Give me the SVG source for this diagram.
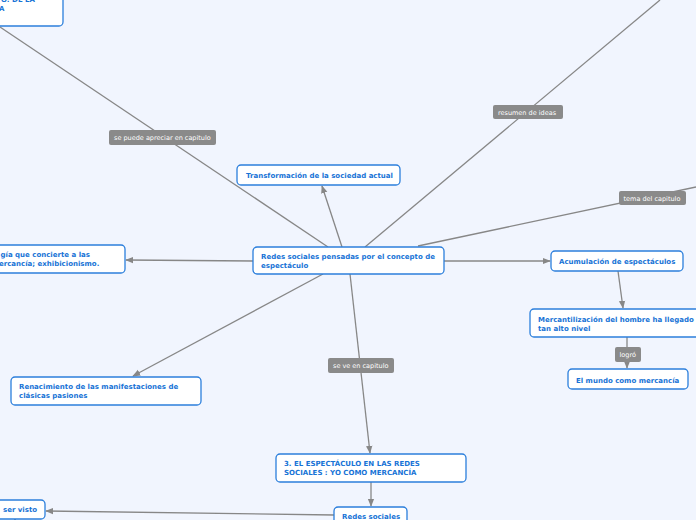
<svg xmlns="http://www.w3.org/2000/svg" width="696" height="520" viewBox="0 0 696 520">
<defs>
<marker id="ah" viewBox="0 0 10 10" refX="9" refY="5" markerWidth="8" markerHeight="8" markerUnits="userSpaceOnUse" orient="auto">
<path d="M0,1 L10,5 L0,9 Z" fill="#878787"/>
</marker>
<style>
.n rect{fill:#fff;stroke:#2c7fdc;stroke-width:1.3}
.n text{font-family:"DejaVu Sans",Verdana,sans-serif;font-weight:bold;font-size:7px;fill:#1773d6}
.c line{stroke:#878787;stroke-width:1.3;fill:none}
.l rect{fill:#8a8a8a}
.l text{font-family:"DejaVu Sans",Verdana,sans-serif;font-size:6.5px;fill:#fff}
</style>
</defs>
<rect width="696" height="520" fill="#f1f5fe"/>
<g id="connectors" class="c">
<line x1="328" y1="247" x2="0" y2="27"/>
<line x1="342" y1="247" x2="322" y2="186" marker-end="url(#ah)"/>
<line x1="365" y1="247" x2="660" y2="0"/>
<line x1="418" y1="246" x2="696" y2="187"/>
<line x1="253" y1="261" x2="126" y2="260" marker-end="url(#ah)"/>
<line x1="444" y1="261" x2="550" y2="261" marker-end="url(#ah)"/>
<line x1="323" y1="274" x2="133" y2="376" marker-end="url(#ah)"/>
<line x1="350" y1="274" x2="370" y2="453" marker-end="url(#ah)"/>
<line x1="618" y1="271" x2="623" y2="308" marker-end="url(#ah)"/>
<line x1="627" y1="337" x2="627" y2="368" marker-end="url(#ah)"/>
<line x1="371" y1="482" x2="371" y2="506" marker-end="url(#ah)"/>
<line x1="334" y1="515" x2="46" y2="511" marker-end="url(#ah)"/>
<line x1="15" y1="519" x2="15" y2="521" style="stroke:#3a4a6a"/>
</g>
<g id="labels" class="l">
<g><rect x="109" y="130" width="107" height="15" rx="2"/><text x="114" y="140">se puede apreciar en capitulo</text></g>
<g><rect x="493" y="105" width="70" height="14" rx="2"/><text x="498" y="114.5">resumen de ideas</text></g>
<g><rect x="619" y="191" width="67" height="14" rx="2"/><text x="623.5" y="200.5">tema del capitulo</text></g>
<g><rect x="328" y="358" width="66" height="15" rx="2"/><text x="333" y="368">se ve en capitulo</text></g>
<g><rect x="615" y="347" width="26" height="15" rx="2"/><text x="619.5" y="357">logró</text></g>
</g>
<g id="n-top" class="n"><rect x="-100" y="-20" width="163" height="46" rx="4"/><text x="35" y="2" text-anchor="end">O: DE LA</text><text x="-1" y="11">A</text></g>
<g id="n-transformacion" class="n"><rect x="237" y="165" width="163" height="20" rx="4"/><text x="246" y="178">Transformación de la sociedad actual</text></g>
<g id="n-center" class="n"><rect x="253" y="247" width="191" height="27" rx="4"/><text x="261" y="258.5">Redes sociales pensadas por el concepto de</text><text x="261" y="268">espectáculo</text></g>
<g id="n-ideologia" class="n"><rect x="-80" y="245" width="205" height="28" rx="4"/><text x="0.5" y="257">gía que concierte a las</text><text x="-1" y="266">ercancía; exhibicionismo.</text></g>
<g id="n-acumulacion" class="n"><rect x="551" y="251" width="132" height="20" rx="4"/><text x="559" y="264">Acumulación de espectáculos</text></g>
<g id="n-mercantilizacion" class="n"><rect x="530" y="309" width="180" height="28" rx="4"/><text x="538" y="322">Mercantilización del hombre ha llegado a</text><text x="538" y="331">tan alto nivel</text></g>
<g id="n-mundo" class="n"><rect x="568" y="369" width="120" height="20" rx="4"/><text x="576" y="382.5">El mundo como mercancía</text></g>
<g id="n-renacimiento" class="n"><rect x="11" y="377" width="190" height="28" rx="4"/><text x="19" y="388.5">Renacimiento de las manifestaciones de</text><text x="19" y="398">clásicas pasiones</text></g>
<g id="n-espectaculo" class="n"><rect x="276" y="454" width="190" height="28" rx="4"/><text x="284" y="466">3. EL ESPECTÁCULO EN LAS REDES</text><text x="284" y="475">SOCIALES : YO COMO MERCANCÍA</text></g>
<g id="n-redes" class="n"><rect x="334" y="507" width="73" height="22" rx="4"/><text x="342" y="519">Redes sociales</text></g>
<g id="n-visto" class="n"><rect x="-40" y="500" width="85" height="19" rx="4"/><text x="3" y="512">ser visto</text></g>
</svg>
